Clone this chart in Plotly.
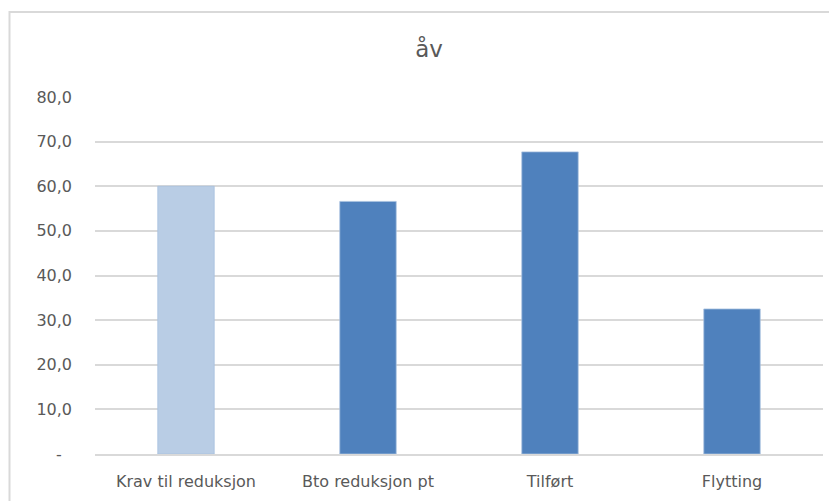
import plotly.graph_objects as go

categories = ["Krav til reduksjon", "Bto reduksjon pt", "Tilført", "Flytting"]
values = [60.0, 56.6, 67.7, 32.5]
bar_colors = ["#b9cde5", "#4f81bd", "#4f81bd", "#4f81bd"]
y_tickvals = [0, 10, 20, 30, 40, 50, 60, 70, 80]
y_ticktext = ["-\u00a0\u00a0", "10,0", "20,0", "30,0", "40,0", "50,0", "60,0", "70,0", "80,0"]
title_text = "åv"

W, H = 837, 501
OFF = 8  # page body margin
L, R, T, B = 95 - OFF, 14 + OFF, 97 - OFF, 47 + OFF
pw = W - L - R
ph = H - T - B

fig = go.Figure()
fig.add_trace(go.Bar(
    x=categories, y=values,
    marker=dict(color=bar_colors, line=dict(color="#a7c0de", width=0.8)),
    width=0.31,
))

font_fam = "'DejaVu Sans', sans-serif"
fig.update_layout(
    width=W, height=H,
    margin=dict(l=L, r=R, t=T, b=B, pad=0),
    paper_bgcolor="white", plot_bgcolor="white",
    showlegend=False,
    title=dict(text=title_text, x=(429 - OFF) / W, xref="container", xanchor="center",
               y=1 - (49 - OFF) / H, yref="container", yanchor="middle",
               font=dict(family=font_fam, size=23, color="#595959")),
    font=dict(family=font_fam, size=15, color="#595959"),
    xaxis=dict(showgrid=False, showline=True, linecolor="#d9d9d9", linewidth=1.5,
               ticks="", ticklabelstandoff=12, tickfont=dict(size=16, color="#595959")),
    yaxis=dict(range=[0, 80], tickvals=y_tickvals, ticktext=y_ticktext,
               showgrid=True, gridcolor="#d9d9d9", gridwidth=1.5,
               zeroline=False, showline=False, ticks="",
               ticklabelstandoff=22, tickfont=dict(size=16, color="#595959")),
    shapes=[dict(type="rect", xref="paper", yref="paper",
                 x0=(0.5 + 1 - L) / pw, x1=(W + 20 - L) / pw,
                 y0=-(B + 20) / ph, y1=(H - B - 3 - 1) / ph,
                 line=dict(color="#d9d9d9", width=2), fillcolor="rgba(0,0,0,0)",
                 layer="below")],
)

fig.write_html("out.html")
